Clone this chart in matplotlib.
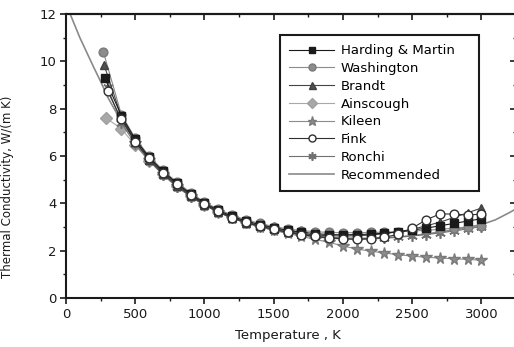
import matplotlib
matplotlib.use("Agg")
import matplotlib.pyplot as plt
from matplotlib.ticker import MultipleLocator

# ---------------- data ----------------
T_hm = [280, 400, 500, 600, 700, 800, 900, 1000, 1100, 1200, 1300, 1400, 1500, 1600,
        1700, 1800, 1900, 2000, 2100, 2200, 2300, 2400, 2500, 2600, 2700, 2800, 2900, 3000]
k_hm = [9.3, 7.7, 6.7, 5.95, 5.35, 4.85, 4.4, 4.0, 3.7, 3.45, 3.25, 3.1, 2.97, 2.86,
        2.78, 2.72, 2.68, 2.67, 2.68, 2.7, 2.74, 2.8, 2.87, 2.95, 3.05, 3.15, 3.25, 3.35]

T_wa = [270, 400, 500, 600, 700, 800, 900, 1000, 1100, 1200, 1300, 1400, 1500, 1600,
        1700, 1800, 1900, 2000, 2100, 2200, 2300, 2400, 2500, 2600, 2700, 2800, 2900, 3000]
k_wa = [10.4, 7.75, 6.75, 6.0, 5.4, 4.9, 4.45, 4.05, 3.75, 3.5, 3.3, 3.15, 3.02, 2.92,
        2.85, 2.8, 2.77, 2.76, 2.76, 2.77, 2.78, 2.8, 2.83, 2.86, 2.9, 2.95, 3.0, 3.05]

T_br = [275, 400, 500, 600, 700, 800, 900, 1000, 1100, 1200, 1300, 1400, 1500, 1600,
        1700, 1800, 1900, 2000, 2100, 2200, 2300, 2400, 2500, 2600, 2700, 2800, 2900, 3000]
k_br = [9.85, 7.65, 6.6, 5.85, 5.25, 4.75, 4.3, 3.93, 3.63, 3.38, 3.18, 3.03, 2.9, 2.8,
        2.72, 2.66, 2.63, 2.62, 2.63, 2.66, 2.72, 2.8, 2.9, 3.05, 3.2, 3.4, 3.6, 3.8]

T_ai = [290, 400, 500, 600, 700, 800, 900, 1000, 1100, 1200, 1300, 1400, 1500, 1600, 1700]
k_ai = [7.6, 7.15, 6.45, 5.8, 5.25, 4.75, 4.3, 3.95, 3.65, 3.42, 3.22, 3.07, 2.95, 2.85, 2.77]

T_ki = [500, 600, 700, 800, 900, 1000, 1100, 1200, 1300, 1400, 1500, 1600, 1700,
        1800, 1900, 2000, 2100, 2200, 2300, 2400, 2500, 2600, 2700, 2800, 2900, 3000]
k_ki = [6.55, 5.85, 5.25, 4.75, 4.32, 3.95, 3.64, 3.38, 3.17, 3.0, 2.86, 2.73, 2.6,
        2.48, 2.35, 2.2, 2.07, 1.98, 1.9, 1.83, 1.77, 1.72, 1.69, 1.66, 1.63, 1.6]

T_fi = [300, 400, 500, 600, 700, 800, 900, 1000, 1100, 1200, 1300, 1400, 1500, 1600,
        1700, 1800, 1900, 2000, 2100, 2200, 2300, 2400, 2500, 2600, 2700, 2800, 2900, 3000]
k_fi = [8.75, 7.55, 6.6, 5.9, 5.3, 4.8, 4.35, 3.97, 3.66, 3.4, 3.2, 3.04, 2.9, 2.78,
        2.68, 2.6, 2.54, 2.5, 2.48, 2.5, 2.56, 2.7, 2.95, 3.3, 3.55, 3.55, 3.5, 3.55]

T_ro = [300, 400, 500, 600, 700, 800, 900, 1000, 1100, 1200, 1300, 1400, 1500, 1600,
        1700, 1800, 1900, 2000, 2100, 2200, 2300, 2400, 2500, 2600, 2700, 2800, 2900, 3000]
k_ro = [8.9, 7.4, 6.5, 5.8, 5.2, 4.7, 4.28, 3.92, 3.62, 3.37, 3.17, 3.01, 2.88, 2.77,
        2.69, 2.62, 2.57, 2.54, 2.53, 2.53, 2.55, 2.58, 2.62, 2.68, 2.75, 2.83, 2.92, 3.02]

T_rec = [30, 100, 200, 250, 300, 400, 500, 600, 700, 800, 900, 1000, 1200, 1400, 1600,
         1800, 2000, 2200, 2400, 2600, 2800, 3000, 3100, 3200, 3260]
k_rec = [12.0, 11.0, 9.75, 9.15, 8.5, 7.45, 6.65, 5.95, 5.35, 4.85, 4.4, 4.02, 3.43, 3.02,
         2.75, 2.58, 2.5, 2.5, 2.57, 2.7, 2.88, 3.1, 3.3, 3.6, 3.8]

x_ticks = [0, 500, 1000, 1500, 2000, 2500, 3000]
y_ticks = [0, 2, 4, 6, 8, 10, 12]

# ---------------- figure ----------------
W, H = 514, 347
fig = plt.figure(figsize=(W / 100, H / 100), dpi=100)
ax = fig.add_axes([66 / W, (H - 298) / H, 450 / W, 284 / H])

ms = 6.3
lw = 0.8
ax.plot(T_rec, k_rec, color="#8a8a8a", lw=1.2, label="Recommended", zorder=1)
ax.plot(T_ai, k_ai, color="#a8a8a8", lw=lw, marker="D", ms=5.8, mfc="#a8a8a8",
        mec="#a0a0a0", label="Ainscough", zorder=2)
ax.plot(T_ro, k_ro, color="#707070", lw=lw, marker=(6, 2, 0), ms=7.5, mec="#707070",
        mew=1.2, label="Ronchi", zorder=3)
ax.plot(T_ki, k_ki, color="#8c8c8c", lw=lw, marker="*", ms=8.5, mfc="#8c8c8c",
        mec="#7a7a7a", label="Kileen", zorder=3)
ax.plot(T_wa, k_wa, color="#8c8c8c", lw=lw, marker="o", ms=ms, mfc="#8c8c8c",
        mec="#7a7a7a", label="Washington", zorder=4)
ax.plot(T_br, k_br, color="#454545", lw=lw, marker="^", ms=ms, mfc="#505050",
        mec="#404040", label="Brandt", zorder=4)
ax.plot(T_hm, k_hm, color="#1a1a1a", lw=lw, marker="s", ms=5.2, mfc="#1a1a1a",
        mec="#1a1a1a", label="Harding & Martin", zorder=5)
ax.plot(T_fi, k_fi, color="#303030", lw=lw, marker="o", ms=ms, mfc="white",
        mec="#303030", mew=1.0, label="Fink", zorder=5)

ax.set_xlim(0, 3250)
ax.set_ylim(0, 12)
ax.set_xticks(x_ticks)
ax.set_yticks(y_ticks)
ax.xaxis.set_minor_locator(MultipleLocator(250))
ax.yaxis.set_minor_locator(MultipleLocator(1))

for s in ax.spines.values():
    s.set_linewidth(1.5)
    s.set_color("#1a1a1a")

ax.tick_params(axis="both", which="major", labelsize=9.5, width=1.2, length=4,
               colors="#1a1a1a", pad=3, direction="out")
ax.tick_params(axis="both", which="minor", width=1.0, length=2.5, colors="#1a1a1a",
               direction="out")

# inward ticks on the top and right
secx = ax.secondary_xaxis("top")
secx.set_xticks(x_ticks)
secx.xaxis.set_minor_locator(MultipleLocator(250))
secx.tick_params(which="major", direction="in", length=4, width=1.2, labeltop=False,
                 colors="#1a1a1a")
secx.tick_params(which="minor", direction="in", length=2.5, width=1.0, colors="#1a1a1a")
secx.spines["top"].set_linewidth(1.5)
secy = ax.secondary_yaxis("right")
secy.set_yticks(y_ticks)
secy.yaxis.set_minor_locator(MultipleLocator(1))
secy.tick_params(which="major", direction="in", length=4, width=1.2, labelright=False,
                 colors="#1a1a1a")
secy.tick_params(which="minor", direction="in", length=2.5, width=1.0, colors="#1a1a1a")

ax.set_xlabel("Temperature , K", fontsize=9.5, color="#1a1a1a")
ax.xaxis.set_label_coords(0.493, -0.108)
ax.set_ylabel("Thermal Conductivity, W/(m K)", fontsize=8.5, color="#1a1a1a")
ax.yaxis.set_label_coords(-0.115, 0.39)

order = ["Harding & Martin", "Washington", "Brandt", "Ainscough", "Kileen", "Fink",
         "Ronchi", "Recommended"]
handles, labels = ax.get_legend_handles_labels()
hmap = dict(zip(labels, handles))
leg = ax.legend([hmap[l] for l in order], order, loc="upper left",
                bbox_to_anchor=(0.4756, 0.380, 0.442, 0.546), mode="expand",
                fontsize=9.5, labelspacing=0.36,
                handlelength=3.4, handletextpad=0.5, borderpad=0.7,
                fancybox=False, framealpha=1, edgecolor="#1a1a1a",
                borderaxespad=0, markerscale=0.8)
leg.get_frame().set_linewidth(1.5)

fig.savefig("out.png", dpi=100)
